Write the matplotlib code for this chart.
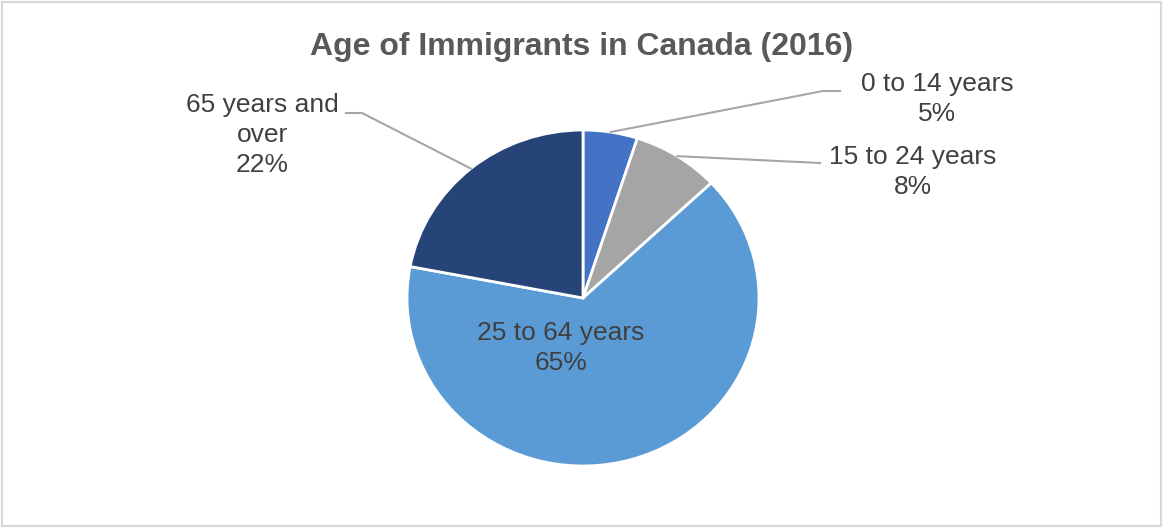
import numpy as np
import matplotlib
matplotlib.use("Agg")
import matplotlib.pyplot as plt
from matplotlib.patches import Rectangle

plt.rcParams['font.family'] = ['Liberation Sans', 'DejaVu Sans']

title = "Age of Immigrants in Canada (2016)"
categories = ["0 to 14 years", "15 to 24 years", "25 to 64 years", "65 years and\nover"]
values = [5, 8, 65, 22]
colors = ["#4472C4", "#A5A5A5", "#5B9BD5", "#264478"]

W, H = 1164, 529
fig = plt.figure(figsize=(W / 100, H / 100), dpi=100)

# pie geometry (pixels)
cx, cy, rx, ry = 583, 298, 176, 168
pax = fig.add_axes([(cx - rx) / W, 1 - (cy + ry) / H, 2 * rx / W, 2 * ry / H])
wedges, _ = pax.pie(values, colors=colors, startangle=90, counterclock=False,
                    wedgeprops=dict(edgecolor="white", linewidth=2))
pax.set_xlim(-1, 1)
pax.set_ylim(-1, 1)
pax.set_aspect("auto")
pax.axis("off")

# overlay axes in pixel coordinates (on top)
ov = fig.add_axes([0, 0, 1, 1])
ov.set_zorder(5)
ov.patch.set_alpha(0)
ov.set_xlim(0, W)
ov.set_ylim(H, 0)
ov.axis("off")
ov.add_patch(Rectangle((2, 2), W - 5, H - 5, fill=False, edgecolor="#D9D9D9", linewidth=1.5))

ov.text(582, 47, title, ha="center", va="center", fontsize=23, fontweight="bold", color="#595959")

lbl_color = "#404040"
fs = 19
ls = 1.32
pct = [f"{v}%" for v in values]

def anchor(w):
    a = np.deg2rad((w.theta1 + w.theta2) / 2)
    return cx + rx * np.cos(a), cy - ry * np.sin(a)

line_kw = dict(color="#A6A6A6", linewidth=1.5)

# 0 to 14
x0, y0 = anchor(wedges[0])
ov.plot([x0, 823, 840], [y0, 91, 91], **line_kw)
ov.text(937, 99, categories[0] + "\n" + pct[0], ha="center", va="center", fontsize=fs,
        color=lbl_color, linespacing=ls)

# 15 to 24
x1, y1 = anchor(wedges[1])
ov.plot([x1, 820], [y1, 163], **line_kw)
ov.text(913, 172, categories[1] + "\n" + pct[1], ha="center", va="center", fontsize=fs,
        color=lbl_color, linespacing=ls)

# 65 and over
x3, y3 = anchor(wedges[3])
ov.plot([x3, 362, 346], [y3, 113, 113], **line_kw)
ov.text(262, 135, categories[3] + "\n" + pct[3], ha="center", va="center", fontsize=fs,
        color=lbl_color, linespacing=ls)

# 25 to 64 (inside)
ov.text(561, 348, categories[2] + "\n" + pct[2], ha="center", va="center", fontsize=fs,
        color=lbl_color, linespacing=ls)

fig.savefig("out.png", dpi=100, facecolor="white")
